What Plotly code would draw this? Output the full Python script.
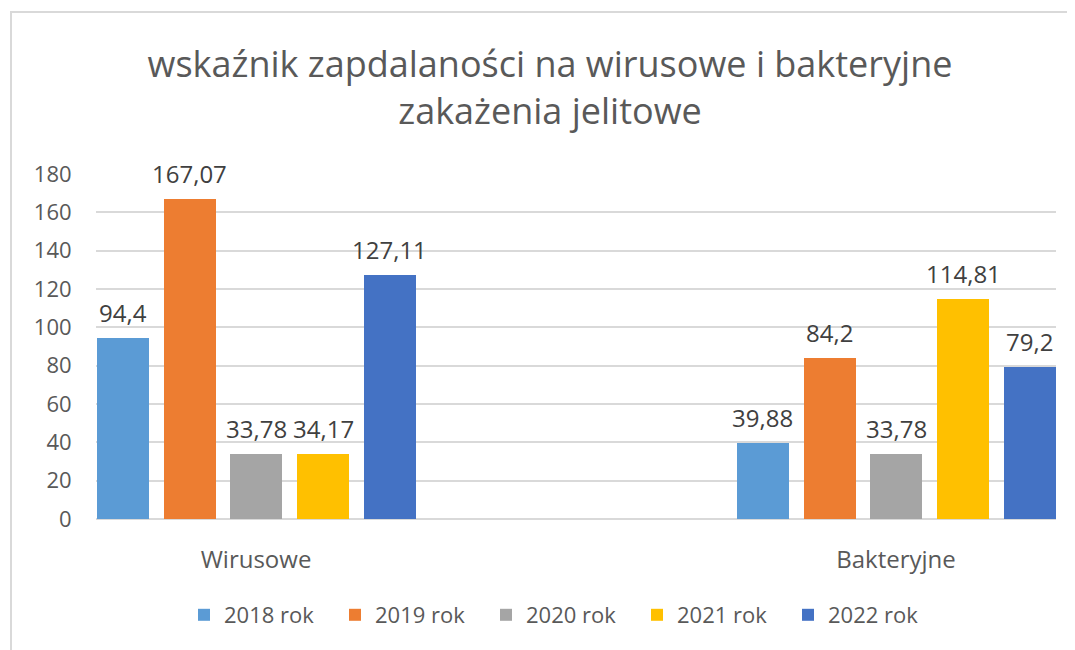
import plotly.graph_objects as go

categories = ["Wirusowe", "Bakteryjne"]
series_names = ["2018 rok", "2019 rok", "2020 rok", "2021 rok", "2022 rok"]
values_2018 = [94.4, 39.88]
values_2019 = [167.07, 84.2]
values_2020 = [33.78, 33.78]
values_2021 = [34.17, 114.81]
values_2022 = [127.11, 79.2]
y_ticks = [0, 20, 40, 60, 80, 100, 120, 140, 160, 180]

series_values = [values_2018, values_2019, values_2020, values_2021, values_2022]
colors = ["#5B9BD5", "#ED7D31", "#A5A5A5", "#FFC000", "#4472C4"]

FONT = "Open Sans"
W, H = 1075, 650
ML, MT = 88, 166
plot_w, plot_h = 960, 345
MR = W - ML - plot_w
MB = H - MT - plot_h

# layout of bars inside each category slot (category width = 1)
bar_w = 0.1625
pitch = 0.2086


def fmt(v):
    return f"{v:g}".replace(".", ",")


def px_x(cx):
    return (cx - ML) / plot_w


def px_y(cy):
    return (MT + plot_h - cy) / plot_h


fig = go.Figure()
annotations = []
cat_px = plot_w / 3.0
for i, (name, vals, col) in enumerate(zip(series_names, series_values, colors)):
    off = -0.5 + 0.003 + i * pitch
    fig.add_trace(go.Bar(
        name=name, x=categories, y=vals,
        marker=dict(color=col, line=dict(width=0)),
        width=bar_w, offset=off,
    ))
    center_shift = (off + bar_w / 2) * cat_px
    for c, v in zip(categories, vals):
        annotations.append(dict(
            x=c, y=v, xref="x", yref="y", text=fmt(v), showarrow=False,
            xshift=center_shift, yanchor="bottom", yshift=7,
            font=dict(family=FONT, size=24, color="#404040"),
        ))

# outer chart border
border = [dict(
    type="rect", xref="paper", yref="paper",
    x0=px_x(3), x1=px_x(W + 20), y0=px_y(H + 20), y1=px_y(4),
    line=dict(color="#D9D9D9", width=2), fillcolor="rgba(0,0,0,0)", layer="below",
)]

fig.update_layout(
    width=W, height=H, autosize=False,
    margin=dict(l=ML, r=MR, t=MT, b=MB, pad=0, autoexpand=False),
    paper_bgcolor="white", plot_bgcolor="white",
    barmode="group", bargap=0, bargroupgap=0,
    title=dict(
        text="wskaźnik zapdalaności na wirusowe i bakteryjne<br>zakażenia jelitowe",
        x=542 / W, xanchor="center", xref="container",
        y=1 - 69 / H, yanchor="top", yref="container",
        font=dict(family=FONT, size=36, color="#595959"),
    ),
    xaxis=dict(
        type="category", categoryorder="array",
        categoryarray=["Wirusowe", " ", "Bakteryjne"],
        range=[-0.5, 2.5], showgrid=False, zeroline=False, showline=False,
        ticks="outside", ticklen=19, tickcolor="rgba(0,0,0,0)",
        tickfont=dict(family=FONT, size=24, color="#595959"),
    ),
    yaxis=dict(
        range=[0, 180], tickvals=y_ticks, ticktext=[str(t) for t in y_ticks],
        showgrid=True, gridcolor="#D9D9D9", gridwidth=1.5,
        zeroline=True, zerolinecolor="#D9D9D9", zerolinewidth=1.5,
        showline=False, ticks="outside", ticklen=19, tickcolor="rgba(0,0,0,0)",
        tickfont=dict(family=FONT, size=22, color="#595959"),
    ),
    legend=dict(
        orientation="h", x=176 / W, xanchor="left", xref="container",
        y=px_y(607), yanchor="middle",
        font=dict(family=FONT, size=22, color="#595959"),
        traceorder="normal", entrywidth=106, entrywidthmode="pixels",
    ),
    annotations=annotations,
    shapes=border,
    showlegend=True,
)

fig.write_html("out.html")
